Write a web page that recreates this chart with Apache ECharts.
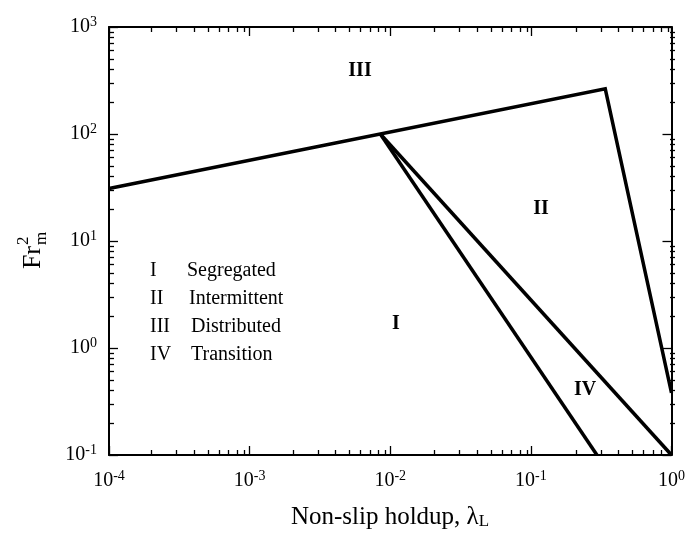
<!DOCTYPE html>
<html>
<head>
<meta charset="utf-8">
<script src="https://cdn.jsdelivr.net/npm/echarts@6/dist/echarts.min.js"></script>
<style>
  html, body { margin: 0; padding: 0; background: #fff; }
  #chart { width: 688px; height: 535px; }
</style>
</head>
<body>
<div id="chart"></div>
<script>
// Flow-pattern boundaries: non-slip holdup (lambda_L) vs mixture Froude number
const distributedBoundary = [[1e-4, 31.0], [0.338, 264], [1, 0.38]];
const segregatedBoundary = [[0.0085, 100], [0.295, 0.1]];
const intermittentBoundary = [[0.0085, 100], [1, 0.1]];

// Axis decades
const xMajorTicks = [1e-4, 1e-3, 1e-2, 1e-1, 1];
const yMajorTicks = [1e-1, 1, 10, 100, 1000];

// Pattern names
const regionNumerals = ['I', 'II', 'III', 'IV'];
const regionNames = ['Segregated', 'Intermittent', 'Distributed', 'Transition'];

function minorTicks(majors) {
  const out = [];
  for (let i = 0; i < majors.length - 1; i++) {
    for (let k = 2; k <= 9; k++) out.push(k * majors[i]);
  }
  return out;
}

const SERIF = '"Liberation Serif", "Times New Roman", serif';
const GRID = { left: 109, right: 13, top: 27, bottom: 80 };

function powLabel(v) {
  const e = Math.round(Math.log10(v));
  return '{b|10}{e|' + (e < 0 ? '-' + (-e) : e) + '}';
}
const labelRich = {
  b: { fontSize: 20, fontFamily: SERIF, color: '#000' },
  e: { fontSize: 14, fontFamily: SERIF, color: '#000', verticalAlign: 'top', padding: [0, 0, 10, 0] }
};

function axis(type, pos, gridIndex, ticks, len, showLine, showLabel) {
  const isX = type === 'x';
  return {
    type: 'log', logBase: 10, gridIndex: gridIndex, position: pos,
    min: isX ? xMajorTicks[0] : yMajorTicks[0],
    max: isX ? xMajorTicks[xMajorTicks.length - 1] : yMajorTicks[yMajorTicks.length - 1],
    axisLine: { show: showLine, lineStyle: { color: '#000', width: 2 } },
    axisTick: { show: true, inside: true, length: len, customValues: ticks,
                lineStyle: { color: '#000', width: 1.3 } },
    axisLabel: showLabel ? {
      show: true, customValues: ticks, formatter: powLabel, rich: labelRich,
      margin: isX ? 14 : 12, showMinLabel: true, showMaxLabel: true, hideOverlap: false
    } : { show: false },
    splitLine: { show: false },
    minorTick: { show: false }
  };
}

const xMinor = minorTicks(xMajorTicks);
const yMinor = minorTicks(yMajorTicks);

function lineSeries(data) {
  return {
    type: 'line', xAxisIndex: 0, yAxisIndex: 0, data: data,
    symbol: 'none', silent: true, clip: true,
    lineStyle: { color: '#000', width: 3.5, join: 'miter' }
  };
}

const graphics = [];
// y-axis title: Fr with stacked 2 and m
graphics.push({
  type: 'group', x: 33, y: 246, rotation: Math.PI / 2,
  children: [
    { type: 'text', x: 0, y: 0, style: { text: 'Fr', font: '26px ' + SERIF, fill: '#000', textAlign: 'right', textVerticalAlign: 'middle' } },
    { type: 'text', x: 1, y: -9, style: { text: '2', font: '17px ' + SERIF, fill: '#000', textAlign: 'left', textVerticalAlign: 'middle' } },
    { type: 'text', x: 1, y: 9, style: { text: 'm', font: '17px ' + SERIF, fill: '#000', textAlign: 'left', textVerticalAlign: 'middle' } }
  ]
});
// x-axis title
graphics.push({
  type: 'text', x: 390, y: 517,
  style: { text: 'Non-slip holdup, {l|λ}{s|L}', textAlign: 'center', textVerticalAlign: 'middle',
           font: '25px ' + SERIF, fill: '#000',
           rich: { l: { fontSize: 25, fontFamily: SERIF }, s: { fontSize: 17, fontFamily: SERIF, verticalAlign: 'bottom', padding: [10, 0, 0, 0] } } }
});
// legend of pattern names
const legendY = [271, 299, 327, 355];
const nameX = [187, 189, 191, 191];
regionNumerals.forEach(function (num, i) {
  graphics.push({ type: 'text', x: 150, y: legendY[i], style: { text: num, font: '20px ' + SERIF, fill: '#000', textVerticalAlign: 'middle' } });
  graphics.push({ type: 'text', x: nameX[i], y: legendY[i], style: { text: regionNames[i], font: '20px ' + SERIF, fill: '#000', textVerticalAlign: 'middle' } });
});
// region labels inside the map
const regionLabelPos = [[396, 324], [541, 209], [360, 71], [585, 390]];
regionNumerals.forEach(function (num, i) {
  graphics.push({ type: 'text', x: regionLabelPos[i][0], y: regionLabelPos[i][1],
    style: { text: num, font: 'bold 20px ' + SERIF, fill: '#000', textAlign: 'center', textVerticalAlign: 'middle' } });
});

const chart = echarts.init(document.getElementById('chart'), null, { renderer: 'canvas' });
chart.setOption({
  animation: false,
  backgroundColor: '#fff',
  grid: [Object.assign({ containLabel: false }, GRID), Object.assign({ containLabel: false }, GRID)],
  xAxis: [
    axis('x', 'bottom', 0, xMajorTicks, 9, true, true),
    axis('x', 'top', 0, xMajorTicks, 9, true, false),
    axis('x', 'bottom', 1, xMinor, 5, false, false),
    axis('x', 'top', 1, xMinor, 5, false, false)
  ],
  yAxis: [
    axis('y', 'left', 0, yMajorTicks, 9, true, true),
    axis('y', 'right', 0, yMajorTicks, 9, true, false),
    axis('y', 'left', 1, yMinor, 5, false, false),
    axis('y', 'right', 1, yMinor, 5, false, false)
  ],
  series: [
    lineSeries(distributedBoundary),
    lineSeries(segregatedBoundary),
    lineSeries(intermittentBoundary)
  ],
  graphic: graphics
});
</script>
</body>
</html>
